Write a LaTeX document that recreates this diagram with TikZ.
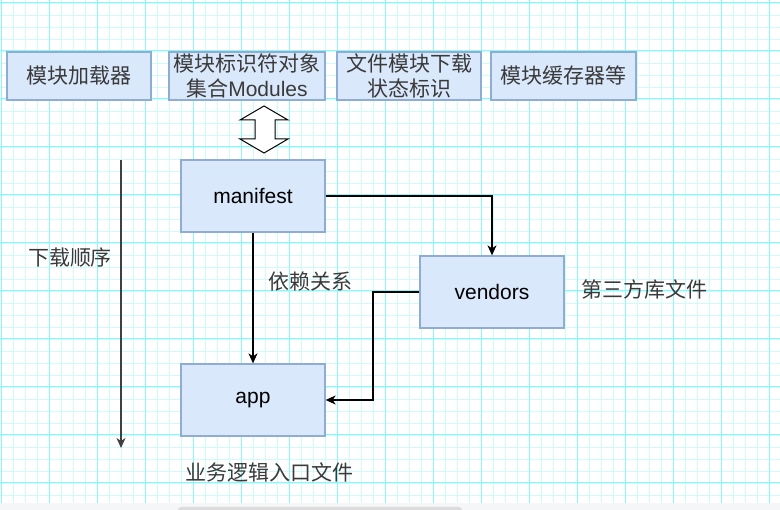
\documentclass[tikz,border=0pt]{standalone}
\usepackage{fontspec}
\setmainfont{Liberation Sans}
\newfontfamily\cjk{Noto Sans CJK SC}
\usetikzlibrary{arrows.meta}
\definecolor{boxfill}{HTML}{DAE8FC}
\definecolor{boxline}{HTML}{8FADD3}
\definecolor{gridmajor}{HTML}{8CF7F7}
\definecolor{gridminor}{HTML}{CFFBFB}
\definecolor{bartrack}{HTML}{F5F6F7}
\definecolor{barthumb}{HTML}{DCDCDC}
\definecolor{labeltext}{HTML}{3A3A3A}

\begin{document}
\begin{tikzpicture}[
			x=1pt, y=-1pt,
			box/.style={rectangle, draw=boxline, fill=boxfill, line width=1.3pt, minimum width=144pt, inner sep=1pt, align=center, text=labeltext, font=\fontsize{21}{25}\selectfont},
			topbox/.style={box, minimum height=48pt},
			filebox/.style={box, minimum height=72pt, text=black},
			note/.style={text=labeltext, font=\fontsize{21}{24}\selectfont\cjk, inner sep=0pt},
			link/.style={draw, line width=1.1pt, -{Stealth[length=10pt, width=9pt, inset=3pt]}}
			]
			\useasboundingbox (0,0) rectangle (780,510);
			% grid background
			\foreach \x in {1,13,...,780} \draw[gridminor, line width=0.9pt] (\x,0) -- (\x,503);
			\foreach \y in {3,15,...,503} \draw[gridminor, line width=0.9pt] (0,\y) -- (780,\y);
			\foreach \x in {1,49,...,780} \draw[gridmajor, line width=1pt] (\x,0) -- (\x,503);
			\foreach \y in {3,51,...,503} \draw[gridmajor, line width=1pt] (0,\y) -- (780,\y);
			\fill[bartrack] (0,503) rectangle (780,510);
			\fill[barthumb, rounded corners=3pt] (178,507) rectangle (462,512);
			% top row
			\node[topbox] (loader) at (79,76) {\cjk 模块加载器};
			\node[topbox, minimum width=156pt] (modules) at (247,76) {{\cjk 模块标识符对象}\\{\cjk 集合}Modules};
			\node[topbox] (status) at (409,76) {{\cjk 文件模块下载}\\{\cjk 状态标识}};
			\node[topbox, minimum width=145pt] (cache) at (563.5,76) {\cjk 模块缓存器等};
			% double arrow
			\draw[fill=white, line width=1pt] (264,106) -- (288,120) -- (275,120) -- (275,139) -- (288,139)
				-- (264,153) -- (240,139) -- (255,139) -- (255,120) -- (240,120) -- cycle;
			% files
			\node[filebox] (manifest) at (253,196) {manifest};
			\node[filebox] (vendors) at (492,292) {vendors};
			\node[filebox] (app) at (253,400) {app};
			% labels
			\node[note] (order) at (70,258) {下载顺序};
			\node[note] (depend) at (310,282) {依赖关系};
			\node[note] (third) at (644,290) {第三方库文件};
			\node[note] (entry) at (269,472) {业务逻辑入口文件};
			\coordinate (start) at (121,160);
			\coordinate (stop) at (121,448);
			% connectors
			\draw[link, black!75] (start) -- (stop);
			\draw[link] (manifest.east) -| (vendors.north);
			\draw[link] (manifest.south) -- (app.north);
			\draw[link] (vendors.west) -- (373,292) |- (app.east);
			\end{tikzpicture}
\end{document}
